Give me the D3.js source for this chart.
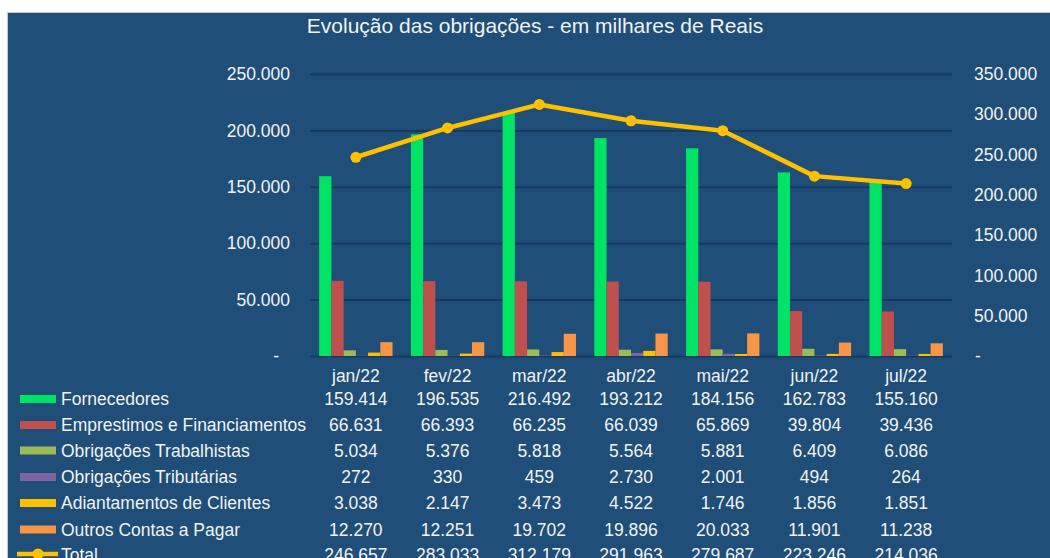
<!DOCTYPE html>
<html>
<head>
<meta charset="utf-8">
<script src="https://cdn.jsdelivr.net/npm/d3@7"></script>
<style>
  body { margin: 0; background: #fff; }
  text { font-family: "Liberation Sans", Arial, sans-serif; fill: #f2f2f2; }
</style>
</head>
<body>
<div id="chart"></div>
<script>
var months = ["jan/22", "fev/22", "mar/22", "abr/22", "mai/22", "jun/22", "jul/22"];
var fornecedores = [159414, 196535, 216492, 193212, 184156, 162783, 155160];
var emprestimos = [66631, 66393, 66235, 66039, 65869, 39804, 39436];
var trabalhistas = [5034, 5376, 5818, 5564, 5881, 6409, 6086];
var tributarias = [272, 330, 459, 2730, 2001, 494, 264];
var adiantamentos = [3038, 2147, 3473, 4522, 1746, 1856, 1851];
var outros = [12270, 12251, 19702, 19896, 20033, 11901, 11238];
var total = [246657, 283033, 312179, 291963, 279687, 223246, 214036];
var leftTicks = [0, 50000, 100000, 150000, 200000, 250000];
var rightTicks = [0, 50000, 100000, 150000, 200000, 250000, 300000, 350000];

var series = [
  { name: "Fornecedores", values: fornecedores, color: "#00e466" },
  { name: "Emprestimos e Financiamentos", values: emprestimos, color: "#c0504d" },
  { name: "Obrigações Trabalhistas", values: trabalhistas, color: "#9bbb59" },
  { name: "Obrigações Tributárias", values: tributarias, color: "#8064a2" },
  { name: "Adiantamentos de Clientes", values: adiantamentos, color: "#ffc000" },
  { name: "Outros Contas a Pagar", values: outros, color: "#f79646" }
];
var lineColor = "#ffc000";

var W = 1050, H = 558;
var plot = { left: 310, right: 952, top: 74, bottom: 356 };

var fmt = d3.formatLocale({ decimal: ",", thousands: ".", grouping: [3], currency: ["R$", ""] }).format(",.0f");

var svg = d3.select("#chart").append("svg")
  .attr("width", W)
  .attr("height", H);

// moldura
svg.append("rect").attr("x", 7).attr("y", 12).attr("width", W - 7).attr("height", H - 12).attr("fill", "#c8c8c8");
svg.append("rect").attr("x", 8).attr("y", 13).attr("width", W - 8).attr("height", H - 13).attr("fill", "#1f4e79");

svg.append("text")
  .attr("x", 535)
  .attr("y", 33)
  .attr("text-anchor", "middle")
  .style("font-size", "21px")
  .text("Evolução das obrigações - em milhares de Reais");

var x = d3.scaleBand()
  .domain(months)
  .range([plot.left, plot.right])
  .paddingInner(0.2)
  .paddingOuter(0.1);

var x1 = d3.scaleBand()
  .domain(series.map(function (s) { return s.name; }))
  .range([0, x.bandwidth()]);

var y = d3.scaleLinear().domain([0, 250000]).range([plot.bottom, plot.top]);
var y2 = d3.scaleLinear().domain([0, 350000]).range([plot.bottom, plot.top]);

// linhas de grade
svg.append("g")
  .attr("class", "grid")
  .attr("transform", "translate(" + plot.left + ",0)")
  .call(d3.axisLeft(y).tickValues(leftTicks).tickSize(-(plot.right - plot.left)).tickFormat(""))
  .call(function (g) { g.select(".domain").remove(); })
  .selectAll("line")
  .attr("stroke", "#163a5f")
  .attr("stroke-width", 2);

// eixo esquerdo
var yAxisG = svg.append("g")
  .attr("transform", "translate(290,0)")
  .call(d3.axisLeft(y).tickValues(leftTicks).tickSize(0).tickPadding(0)
    .tickFormat(function (d) { return d === 0 ? "-" : fmt(d); }));
yAxisG.select(".domain").remove();
yAxisG.selectAll("text")
  .attr("fill", "#f2f2f2")
  .style("font-size", "17.5px")
  .style("font-family", "Liberation Sans, Arial, sans-serif")
  .attr("dx", function (d) { return d === 0 ? -11 : 0; });

// eixo direito
var y2AxisG = svg.append("g")
  .attr("transform", "translate(974,0)")
  .call(d3.axisRight(y2).tickValues(rightTicks).tickSize(0).tickPadding(0)
    .tickFormat(function (d) { return d === 0 ? "-" : fmt(d); }));
y2AxisG.select(".domain").remove();
y2AxisG.selectAll("text")
  .attr("fill", "#f2f2f2")
  .style("font-size", "17.5px")
  .style("font-family", "Liberation Sans, Arial, sans-serif")
  .attr("dx", function (d) { return d === 0 ? 1 : 0; });

// barras
var groups = svg.selectAll(".grp")
  .data(months)
  .enter().append("g")
  .attr("class", "grp")
  .attr("transform", function (m) { return "translate(" + x(m) + ",0)"; });

groups.selectAll("rect")
  .data(function (m, i) {
    return series.map(function (s) { return { name: s.name, color: s.color, v: s.values[i] }; });
  })
  .enter().append("rect")
  .attr("x", function (d) { return x1(d.name); })
  .attr("width", x1.bandwidth())
  .attr("y", function (d) { return y(d.v); })
  .attr("height", function (d) { return y(0) - y(d.v); })
  .attr("fill", function (d) { return d.color; });

// linha total
var line = d3.line()
  .x(function (d, i) { return x(months[i]) + x.bandwidth() / 2; })
  .y(function (d) { return y2(d); });

svg.append("path")
  .datum(total)
  .attr("d", line)
  .attr("fill", "none")
  .attr("stroke", lineColor)
  .attr("stroke-width", 4.5)
  .attr("stroke-linejoin", "round");

svg.selectAll(".dot")
  .data(total)
  .enter().append("circle")
  .attr("class", "dot")
  .attr("cx", function (d, i) { return x(months[i]) + x.bandwidth() / 2; })
  .attr("cy", function (d) { return y2(d); })
  .attr("r", 5.5)
  .attr("fill", lineColor);

// tabela de dados (a última linha fica cortada na borda, como no original)
var rowY = [405, 431, 456.5, 483, 509, 535.5, 561];
var fs = "17.5px";

svg.selectAll(".month")
  .data(months)
  .enter().append("text")
  .attr("class", "month")
  .attr("x", function (m) { return x(m) + x.bandwidth() / 2; })
  .attr("y", 382)
  .attr("text-anchor", "middle")
  .style("font-size", fs)
  .text(function (m) { return m; });

var rows = series.map(function (s) { return { name: s.name, color: s.color, values: s.values, line: false }; });
rows.push({ name: "Total", color: lineColor, values: total, line: true });

rows.forEach(function (r, ri) {
  var by = rowY[ri];
  if (r.line) {
    svg.append("line")
      .attr("x1", 17).attr("x2", 58)
      .attr("y1", by - 7).attr("y2", by - 7)
      .attr("stroke", r.color).attr("stroke-width", 4.5);
    svg.append("circle")
      .attr("cx", 38).attr("cy", by - 7).attr("r", 5.5)
      .attr("fill", r.color);
  } else {
    svg.append("rect")
      .attr("x", 20).attr("y", by - 10)
      .attr("width", 36).attr("height", 8)
      .attr("fill", r.color);
  }
  svg.append("text")
    .attr("x", 61).attr("y", by)
    .style("font-size", fs)
    .text(r.name);
  svg.selectAll(null)
    .data(r.values)
    .enter().append("text")
    .attr("x", function (d, i) { return x(months[i]) + x.bandwidth() / 2; })
    .attr("y", by)
    .attr("text-anchor", "middle")
    .style("font-size", fs)
    .text(function (d) { return fmt(d); });
});
</script>
</body>
</html>
